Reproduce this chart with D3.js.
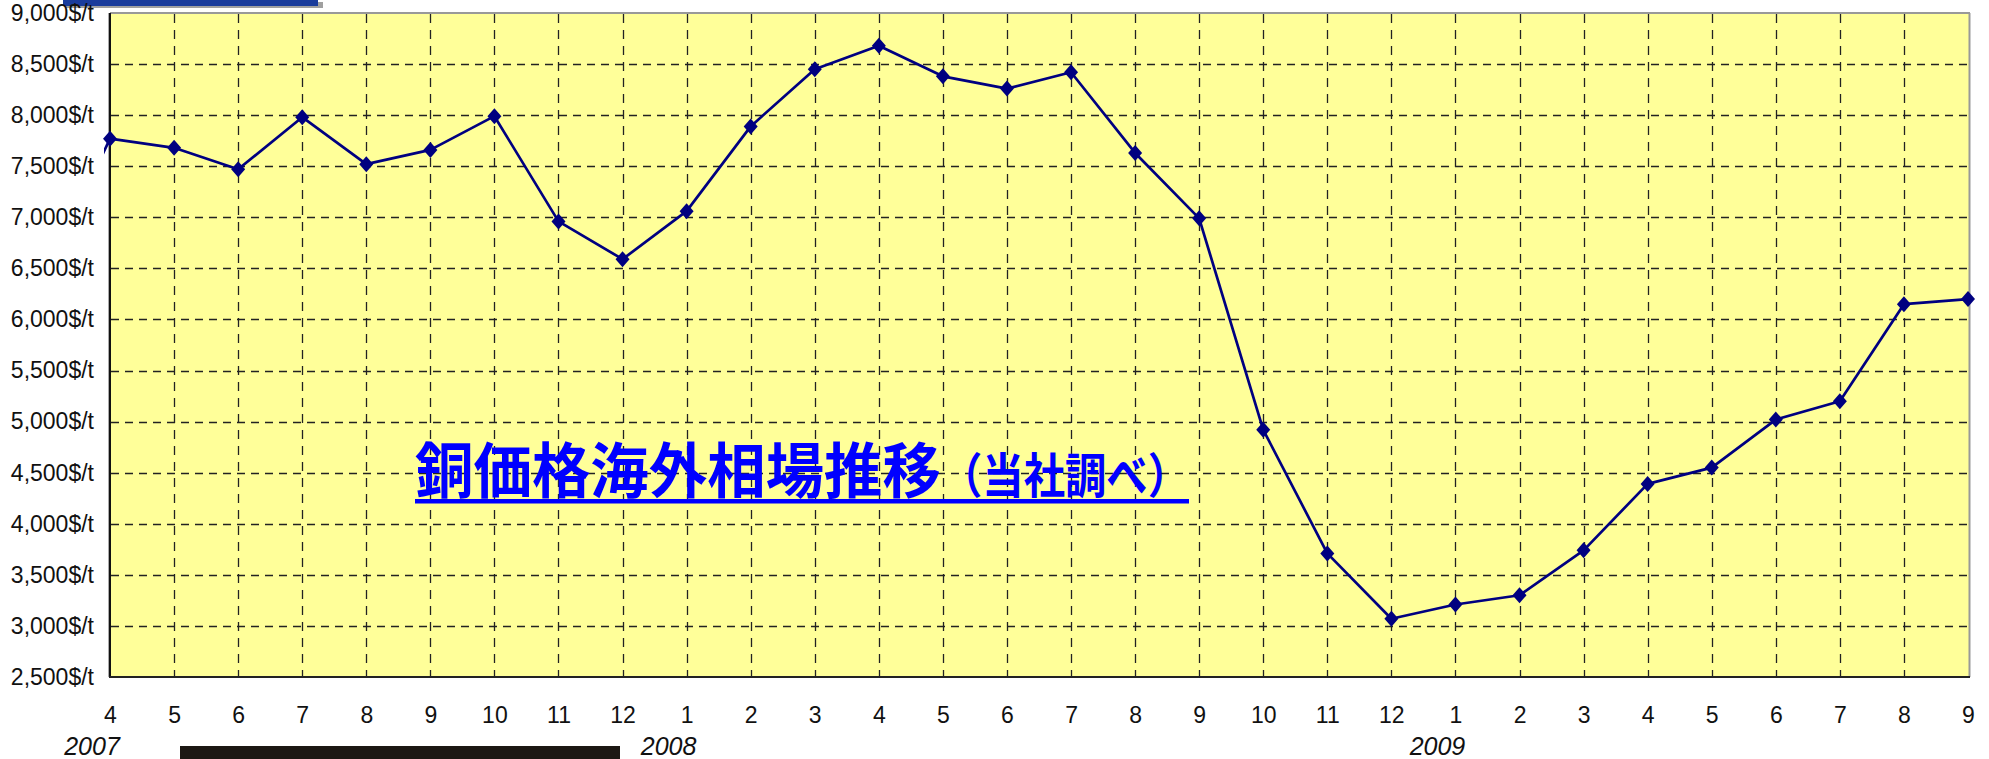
<!DOCTYPE html>
<html>
<head>
<meta charset="utf-8">
<script src="https://cdn.jsdelivr.net/npm/d3@7"></script>
<style>
  html, body { margin: 0; padding: 0; background: #fff; overflow: hidden; }
  svg { display: block; }
</style>
</head>
<body>
<svg id="chart" width="1989" height="759"></svg>
<script>
// Monthly copper price (overseas market), April 2007 – September 2009
const months = ["4","5","6","7","8","9","10","11","12",
                "1","2","3","4","5","6","7","8","9","10","11","12",
                "1","2","3","4","5","6","7","8","9"];
const priceUsdPerTonne = [7770, 7680, 7470, 7980, 7520, 7660, 7990, 6960, 6590,
                          7060, 7890, 8450, 8680, 8380, 8260, 8420, 7630, 6990, 4920, 3710, 3070,
                          3210, 3300, 3740, 4390, 4550, 5020, 5200, 6150, 6200];
// March 2007 — only the stub of its segment shows left of the axis
const priorMonthPrice = 6450;
const years = ["2007", "2008", "2009"];
const yearStartIndex = [0, 9, 21];
const yTickValues = [2500, 3000, 3500, 4000, 4500, 5000, 5500, 6000, 6500, 7000, 7500, 8000, 8500, 9000];
const titleMain = "銅価格海外相場推移";
const titleNote = "（当社調べ）";

const W = 1989, H = 759;
const plot = { left: 110, top: 13, right: 1968, bottom: 677 };

const svg = d3.select("#chart");
const labelFont = "'Liberation Sans', Arial, sans-serif";

const x = d3.scalePoint()
  .domain(d3.range(months.length))
  .range([plot.left, plot.right]);
const y = d3.scaleLinear()
  .domain([yTickValues[0], yTickValues[yTickValues.length - 1]])
  .range([plot.bottom, plot.top]);

// stray header remnant at the very top
svg.append("rect").attr("x", 66).attr("y", 2).attr("width", 257).attr("height", 6).attr("fill", "#a0a0a0");
svg.append("rect").attr("x", 63).attr("y", 0).attr("width", 255).attr("height", 6).attr("fill", "#1a3c9c");

// plot background
svg.append("rect")
  .attr("x", plot.left).attr("y", plot.top)
  .attr("width", plot.right + 1 - plot.left).attr("height", plot.bottom - plot.top)
  .attr("fill", "#FFFF99");

// horizontal dashed grid
svg.append("g")
  .selectAll("line")
  .data(yTickValues.slice(1, -1))
  .join("line")
  .attr("x1", plot.left + 1).attr("x2", plot.right)
  .attr("y1", d => Math.round(y(d)) + 0.5).attr("y2", d => Math.round(y(d)) + 0.5)
  .attr("stroke", "#222").attr("stroke-width", 1.3)
  .attr("stroke-dasharray", "8,6");

// vertical dashed grid
svg.append("g")
  .selectAll("line")
  .data(d3.range(1, months.length - 1))
  .join("line")
  .attr("x1", d => Math.round(x(d)) + 0.5).attr("x2", d => Math.round(x(d)) + 0.5)
  .attr("y1", plot.top + 1).attr("y2", plot.bottom)
  .attr("stroke", "#222").attr("stroke-width", 1.3)
  .attr("stroke-dasharray", "9,7");

// frame: grey top/right, black axes left/bottom
svg.append("line").attr("x1", plot.left).attr("x2", plot.right + 2)
  .attr("y1", plot.top).attr("y2", plot.top).attr("stroke", "#999").attr("stroke-width", 2);
svg.append("line").attr("x1", plot.right + 1.5).attr("x2", plot.right + 1.5)
  .attr("y1", plot.top).attr("y2", plot.bottom).attr("stroke", "#999").attr("stroke-width", 2);
svg.append("line").attr("x1", plot.left - 1.5).attr("x2", plot.left - 1.5)
  .attr("y1", plot.top).attr("y2", plot.bottom).attr("stroke", "#aaa").attr("stroke-width", 1);
svg.append("line").attr("x1", plot.left).attr("x2", plot.left)
  .attr("y1", plot.top).attr("y2", plot.bottom + 1).attr("stroke", "#111").attr("stroke-width", 2);
svg.append("line").attr("x1", plot.left - 1).attr("x2", plot.right + 2)
  .attr("y1", plot.bottom).attr("y2", plot.bottom).attr("stroke", "#222").attr("stroke-width", 2);

// y axis labels
const yAxis = svg.append("g")
  .attr("transform", `translate(${plot.left},0)`)
  .call(d3.axisLeft(y).tickValues(yTickValues)
    .tickFormat(d => d3.format(",")(d) + "$/t")
    .tickSize(0).tickPadding(16));
yAxis.select(".domain").remove();
yAxis.selectAll("text")
  .attr("font-family", labelFont).attr("font-size", 23).attr("fill", "#111");

// x axis labels
const xAxis = svg.append("g")
  .attr("transform", `translate(0,${plot.bottom})`)
  .call(d3.axisBottom(x).tickFormat(i => months[i]).tickSize(0).tickPadding(30));
xAxis.select(".domain").remove();
xAxis.selectAll("text")
  .attr("font-family", labelFont).attr("font-size", 23).attr("fill", "#111");

// year labels
svg.append("g")
  .selectAll("text")
  .data(years)
  .join("text")
  .attr("x", (d, i) => x(yearStartIndex[i]) - 18)
  .attr("y", 755)
  .attr("text-anchor", "middle")
  .attr("font-family", labelFont).attr("font-size", 25).attr("font-style", "italic")
  .attr("fill", "#111")
  .text(d => d);

// dark strip along the bottom edge
svg.append("rect").attr("x", 180).attr("y", 746).attr("width", 440).attr("height", 13).attr("fill", "#1c1813");

// series line (the March stub is clipped just outside the axis)
svg.append("clipPath").attr("id", "lineClip")
  .append("rect").attr("x", plot.left - 6).attr("y", 0).attr("width", W).attr("height", H);

const pts = [[x(0) - x.step(), y(priorMonthPrice)]]
  .concat(priceUsdPerTonne.map((v, i) => [x(i), y(v)]));

svg.append("path")
  .attr("clip-path", "url(#lineClip)")
  .attr("d", d3.line()(pts))
  .attr("fill", "none")
  .attr("stroke", "#000080")
  .attr("stroke-width", 2.7)
  .attr("stroke-linejoin", "round");

// diamond markers
const diamond = (cx, cy) => `M${cx},${cy - 8}L${cx + 7},${cy}L${cx},${cy + 8}L${cx - 7},${cy}Z`;
svg.append("g")
  .selectAll("path")
  .data(priceUsdPerTonne)
  .join("path")
  .attr("d", (v, i) => diamond(x(i), y(v)))
  .attr("fill", "#000080");

// title
const titleFont = "'Noto Sans CJK JP', 'Noto Sans CJK SC', sans-serif";
svg.append("text")
  .attr("x", 415).attr("y", 493)
  .attr("font-family", titleFont).attr("font-weight", 700).attr("font-size", 60)
  .attr("fill", "#0000FF")
  .attr("textLength", 526).attr("lengthAdjust", "spacingAndGlyphs")
  .text(titleMain);
svg.append("text")
  .attr("x", 941).attr("y", 493)
  .attr("font-family", titleFont).attr("font-weight", 700).attr("font-size", 48)
  .attr("fill", "#0000FF")
  .attr("textLength", 248).attr("lengthAdjust", "spacingAndGlyphs")
  .text(titleNote);
svg.append("rect").attr("x", 415).attr("y", 499).attr("width", 774).attr("height", 4.5).attr("fill", "#0000FF");
</script>
</body>
</html>
